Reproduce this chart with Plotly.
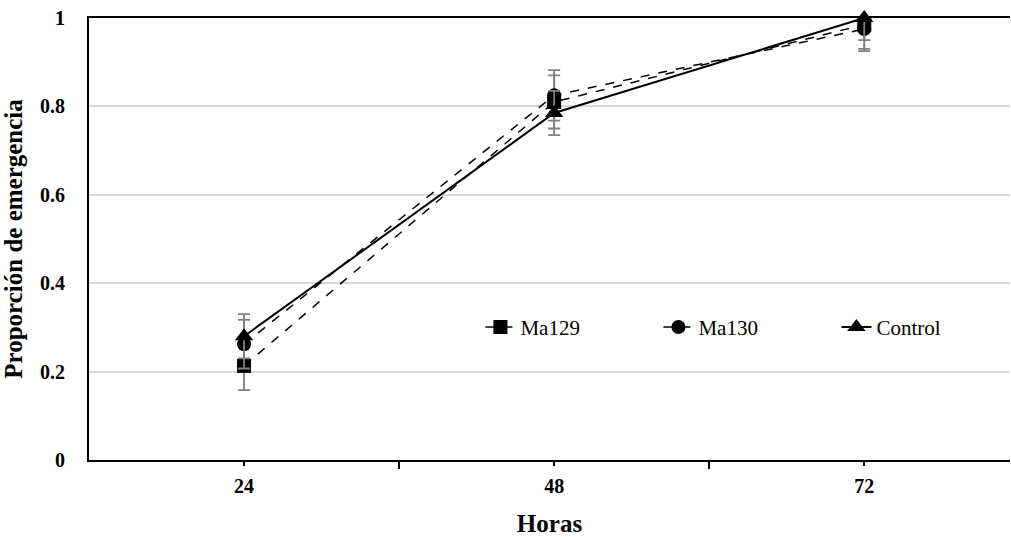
import plotly.graph_objects as go

hours = ["24", "48", "72"]
xpos = [0, 1, 2]

ma129 = [0.213, 0.810, 0.985]
ma129_err_up = [0.055, 0.060, 0.015]
ma129_err_dn = [0.055, 0.060, 0.055]

ma130 = [0.262, 0.825, 0.975]
ma130_err_up = [0.055, 0.057, 0.025]
ma130_err_dn = [0.055, 0.057, 0.050]

control = [0.280, 0.785, 1.000]
control_err_up = [0.050, 0.050, 0.0]
control_err_dn = [0.050, 0.050, 0.050]

FF = "Liberation Serif"
LF = "serif"
err_color = "#7f7f7f"

fig = go.Figure()

def add(name, y, up, dn, symbol, dash, width, size):
    fig.add_trace(go.Scatter(
        x=xpos, y=y, mode="lines+markers", name=name,
        line=dict(color="black", dash=dash, width=width),
        marker=dict(symbol=symbol, color="black", size=size),
        error_y=dict(type="data", symmetric=False, array=up, arrayminus=dn,
                     color=err_color, thickness=1.8, width=6),
        cliponaxis=False,
    ))

add("Ma129", ma129, ma129_err_up, ma129_err_dn, "square", "dash", 1.5, 14)
add("Ma130", ma130, ma130_err_up, ma130_err_dn, "circle", "dash", 1.5, 14)
add("Control", control, control_err_up, control_err_dn, "triangle-up", "solid", 2, 16)

fig.update_layout(
    template="none",
    width=1011, height=537,
    margin=dict(l=89, r=1, t=18, b=77, autoexpand=False),
    paper_bgcolor="white", plot_bgcolor="white",
    font=dict(family=FF, color="black"),
    showlegend=True,
    legend=dict(orientation="h", x=0.425, y=0.30, xanchor="left", yanchor="middle",
                font=dict(size=21, family=LF, color="black"),
                bgcolor="rgba(0,0,0,0)", borderwidth=0,
                entrywidth=133, entrywidthmode="pixels"),
)

fig.update_xaxes(
    range=[-0.5, 2.47],
    tickvals=xpos, ticktext=hours,
    tickfont=dict(size=20, family=FF, weight="bold"),
    showline=True, linecolor="black", linewidth=2, mirror=True,
    ticks="outside", ticklen=4, tickcolor="black", tickwidth=1.5,
    minor=dict(tickvals=[0.5, 1.5], ticks="outside", ticklen=7, tickcolor="black", tickwidth=1.5),
    showgrid=False, zeroline=False, ticklabelstandoff=3,
    title=dict(text="Horas", font=dict(size=25, family=FF, weight="bold"), standoff=22),
)

fig.update_yaxes(
    range=[0, 1],
    tickvals=[0, 0.2, 0.4, 0.6, 0.8, 1],
    ticktext=["0", "0.2", "0.4", "0.6", "0.8", "1"],
    tickfont=dict(size=20, family=FF, weight="bold"),
    showline=True, linecolor="black", linewidth=2,
    showgrid=True, gridcolor="#d9d9d9", gridwidth=1.5,
    zeroline=False, ticks="", ticklabelstandoff=18,
    title=dict(text="Proporción de emergencia", font=dict(size=25, family=FF, weight="bold"), standoff=15),
)

fig.write_html("out.html", config={"displayModeBar": False},
               post_script="document.body.style.margin='0';")
